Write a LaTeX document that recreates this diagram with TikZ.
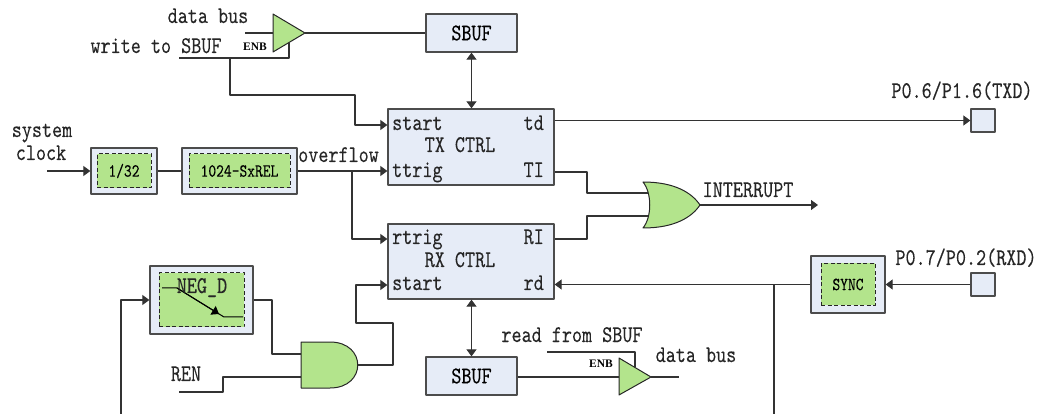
\documentclass[tikz,border=0pt]{standalone}
\usepackage{fontspec}
\newfontfamily\enbfont{Liberation Serif}
\newfontfamily\diagfont{lmmono10-regular.otf}[FakeStretch=0.8, FakeBold=0.1]
\usetikzlibrary{arrows.meta}
\definecolor{boxfill}{RGB}{230,236,247}
\definecolor{gatefill}{RGB}{179,228,140}
\begin{document}
\begin{tikzpicture}[x=1pt, y=-1pt, >={Triangle[length=7pt, width=10pt]}, line join=round, font=\diagfont\fontsize{24}{26}\selectfont,
		box/.style={draw=black!70, fill=boxfill, line width=1.3pt, inner sep=0pt},
		core/.style={draw=black!85, dash pattern=on 4pt off 2.5pt, fill=gatefill, line width=1pt, inner sep=0pt, font=\diagfont\fontsize{18.5}{20}\selectfont},
		pad/.style={box, minimum width=24pt, minimum height=23pt},
		gate/.style={draw=black!85, fill=gatefill, line width=1pt},
		wire/.style={draw=black!80, line width=1.1pt},
		lbl/.style={inner sep=0pt, text height=14pt, text depth=4pt, text=black!85},
		enb/.style={inner sep=0pt, font=\enbfont\bfseries\fontsize{11.5}{11.5}\selectfont}]
	\useasboundingbox (0,0) rectangle (1045,414);
	\node [box, minimum width=91pt, minimum height=38pt] (sbuft) at (471.5,33) {SBUF};
	\node [box, minimum width=166pt, minimum height=76pt] (txc) at (471,147) {};
	\node [box, minimum width=166pt, minimum height=75pt] (rxc) at (471,261.5) {};
	\node [box, minimum width=91pt, minimum height=38pt] (sbufr) at (471.5,376) {SBUF};
	\node [box, minimum width=66pt, minimum height=46pt] (div) at (124,171) {};
	\node [core, minimum width=54pt, minimum height=34pt] (divc) at (div) {1/32};
	\node [box, minimum width=115pt, minimum height=46pt] (rel) at (239.5,171) {};
	\node [core, minimum width=101pt, minimum height=34pt] (relc) at (rel) {1024-SxREL};
	\node [box, minimum width=74pt, minimum height=57pt] (sync) at (848,284.5) {};
	\node [core, minimum width=54pt, minimum height=42pt] (syncc) at (sync) {SYNC};
	\node [box, minimum width=103pt, minimum height=68pt] (negd) at (201.5,300) {};
	\node [core, minimum width=85pt, minimum height=54pt] (negdc) at (negd) {};
	\node [pad] (txd) at (983,120.5) {};
	\node [pad] (rxd) at (983,284.5) {};
	\node [lbl, anchor=west] (txst) at (392,125) {start};
	\node [lbl, anchor=east] (txtd) at (544,125) {td};
	\node [lbl] (txname) at (460,147) {TX CTRL};
	\node [lbl, anchor=west] (txtr) at (392,172) {ttrig};
	\node [lbl, anchor=east] (txti) at (544,172) {TI};
	\node [lbl, anchor=west] (rxtr) at (392,239) {rtrig};
	\node [lbl, anchor=east] (rxri) at (544,239) {RI};
	\node [lbl] (rxname) at (460,262) {RX CTRL};
	\node [lbl, anchor=west] (rxst) at (392,285) {start};
	\node [lbl, anchor=east] (rxrd) at (544,285) {rd};
	\draw [line width=1pt] (162,288) -- (177,288) -- (224,317) -- (243,317);
	\draw [line width=1pt, ->] (177,288) -- (219,314);
	\node [lbl] (negdl) at (202,288) {NEG\_D};
	\coordinate (bufa) at (273,33);
	\coordinate (bufb) at (305,33);
	\coordinate (bufen) at (289,43);
	\draw [gate] (273,14) -- (bufb) -- (273,52) -- cycle;
	\coordinate (bufc) at (619,377);
	\coordinate (bufd) at (651,377);
	\coordinate (bufen2) at (635,367);
	\draw [gate] (619,358) -- (bufd) -- (619,395) -- cycle;
	\coordinate (anda) at (301,354);
	\coordinate (andb) at (301,377);
	\coordinate (ando) at (358,365);
	\draw [gate] (301,342) -- (330,342) .. controls (367,342) and (367,388) .. (330,388) -- (301,388) -- cycle;
	\coordinate (ora) at (648,193);
	\coordinate (orb) at (648,216);
	\coordinate (oro) at (700,205);
	\draw [gate] (643,182) .. controls (675,182) and (692,193) .. (oro) .. controls (692,217) and (675,228) .. (643,228) .. controls (652,217) and (652,193) .. (643,182) -- cycle;
	\coordinate (dbin) at (245,33);
	\coordinate (wrin) at (179,58);
	\coordinate (wrbr) at (230,58);
	\coordinate (clkin) at (47,171);
	\coordinate (ovbr) at (352,171);
	\coordinate (renin) at (179,392);
	\coordinate (negin) at (121,414);
	\coordinate (rdbr) at (774,284.5);
	\coordinate (rdout) at (774,414);
	\coordinate (intout) at (818,205);
	\coordinate (dbout) at (679,377);
	\coordinate (rdin) at (547,352);
	\draw [wire] (dbin) -- (bufa) (bufb) -- (sbuft);
	\draw [wire] (wrin) -| (bufen);
	\draw [wire, ->] (wrbr) |- (355,95) |- (txc.west |- txst.west);
	\draw [wire, <->] (sbuft.south) -- (sbuft.south |- txc.north);
	\draw [wire, ->] (txc.east |- txd) -- (txd.west);
	\draw [wire] (txc.east |- txti.east) -| (587,193) -- (ora);
	\draw [wire] (rxc.east |- rxri.east) -| (587,216) -- (orb);
	\draw [wire, ->] (oro) -- (intout);
	\draw [wire, ->] (clkin) -- (div);
	\draw [wire] (div) -- (rel);
	\draw [wire, ->] (rel) -- (rel -| txc.west);
	\draw [wire, ->] (ovbr) |- (rxc.west |- rxtr.west);
	\draw [wire, ->] (ando) -| (393,323) -| (356,285) -- (rxc.west |- rxst.west);
	\draw [wire, ->] (negin) |- (negd.west);
	\draw [wire] (negd.east) -| (272,354) -- (anda);
	\draw [wire] (renin) -| (223,377) -- (andb);
	\draw [wire, ->] (rxd) -- (sync);
	\draw [wire, ->] (sync) -- (sync -| rxc.east);
	\draw [wire] (rdbr) -- (rdout);
	\draw [wire, <->] (sbufr.north |- rxc.south) -- (sbufr.north);
	\draw [wire] (sbufr.east |- bufc) -- (bufc);
	\draw [wire] (bufd) -- (dbout);
	\draw [wire] (rdin) -| (bufen2);
	\node [lbl] (dbtop) at (208,18) {data bus};
	\node [lbl] (wrlbl) at (156,48) {write to SBUF};
	\node [enb] (enbt) at (255,47) {ENB};
	\node [lbl] (sys) at (42,132) {system};
	\node [lbl] (clk) at (41,155) {clock};
	\node [lbl, anchor=west] (ovf) at (298,157) {overflow};
	\node [lbl] (txdl) at (962,93) {P0.6/P1.6(TXD)};
	\node [lbl] (intl) at (748,192) {INTERRUPT};
	\node [lbl] (rxdl) at (966,260) {P0.7/P0.2(RXD)};
	\node [lbl] (renl) at (186,376) {REN};
	\node [lbl] (rdl) at (572,337) {read from SBUF};
	\node [lbl] (dbbot) at (696,357) {data bus};
	\node [enb] (enbb) at (601,364) {ENB};
\end{tikzpicture}
\end{document}
